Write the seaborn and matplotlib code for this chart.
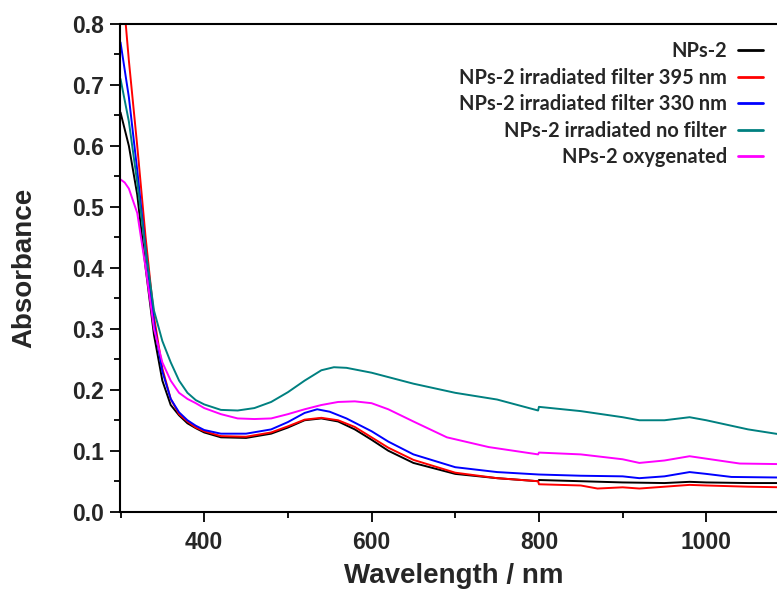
import numpy as np
import pandas as pd
import matplotlib
matplotlib.use("Agg")
import matplotlib.pyplot as plt
import seaborn as sns

# ---------------- data ----------------
labels = ["NPs-2", "NPs-2 irradiated filter 395 nm", "NPs-2 irradiated filter 330 nm",
          "NPs-2 irradiated no filter", "NPs-2 oxygenated"]
colors = ["#000000", "#ff0000", "#0000ff", "#008080", "#ff00ff"]

wl_black = [300, 310, 320, 330, 340, 350, 360, 370, 380, 390, 400, 420, 450, 480, 500, 520, 540, 560,
            580, 600, 620, 650, 700, 750, 799, 800, 850, 900, 950, 980, 1000, 1050, 1092]
abs_black = [0.655, 0.60, 0.52, 0.40, 0.29, 0.215, 0.175, 0.158, 0.145, 0.137, 0.130, 0.122, 0.121,
             0.128, 0.138, 0.150, 0.153, 0.148, 0.135, 0.118, 0.100, 0.080, 0.062, 0.055, 0.050,
             0.052, 0.050, 0.048, 0.047, 0.049, 0.048, 0.047, 0.047]

wl_red = [300, 305, 310, 320, 330, 340, 350, 360, 370, 380, 390, 400, 420, 450, 480, 500, 520, 540,
          560, 580, 600, 620, 650, 700, 750, 799, 800, 850, 870, 900, 920, 950, 980, 1000, 1050, 1092]
abs_red = [0.86, 0.82, 0.74, 0.60, 0.45, 0.32, 0.235, 0.185, 0.160, 0.148, 0.138, 0.132, 0.124, 0.123,
           0.130, 0.140, 0.151, 0.154, 0.150, 0.139, 0.122, 0.105, 0.085, 0.064, 0.055, 0.050, 0.045,
           0.043, 0.038, 0.040, 0.038, 0.041, 0.044, 0.043, 0.041, 0.040]

wl_blue = [300, 310, 320, 330, 340, 350, 360, 370, 380, 390, 400, 420, 450, 480, 500, 520, 535, 550,
           570, 600, 620, 650, 700, 750, 800, 850, 900, 920, 950, 980, 1000, 1030, 1092]
abs_blue = [0.77, 0.68, 0.56, 0.43, 0.31, 0.23, 0.185, 0.163, 0.150, 0.141, 0.134, 0.128, 0.128, 0.135,
            0.147, 0.162, 0.168, 0.164, 0.153, 0.132, 0.115, 0.094, 0.073, 0.065, 0.061, 0.059, 0.058,
            0.055, 0.058, 0.065, 0.062, 0.057, 0.056]

wl_teal = [300, 310, 320, 330, 340, 350, 360, 370, 380, 390, 400, 420, 440, 460, 480, 500, 520, 540,
           555, 570, 600, 650, 700, 750, 799, 800, 850, 900, 920, 950, 980, 1000, 1050, 1092]
abs_teal = [0.71, 0.64, 0.54, 0.43, 0.33, 0.28, 0.245, 0.215, 0.195, 0.183, 0.176, 0.167, 0.166, 0.170,
            0.180, 0.196, 0.215, 0.232, 0.237, 0.236, 0.228, 0.210, 0.195, 0.184, 0.166, 0.172, 0.165,
            0.155, 0.150, 0.150, 0.155, 0.150, 0.135, 0.126]

wl_mag = [300, 305, 310, 320, 330, 340, 350, 360, 370, 380, 390, 400, 420, 440, 460, 480, 500, 520,
          540, 560, 580, 600, 620, 650, 690, 740, 799, 800, 850, 900, 920, 950, 980, 1000, 1040, 1092]
abs_mag = [0.545, 0.54, 0.53, 0.49, 0.40, 0.30, 0.245, 0.215, 0.195, 0.185, 0.178, 0.170, 0.160, 0.153,
           0.152, 0.153, 0.160, 0.168, 0.175, 0.180, 0.181, 0.178, 0.168, 0.148, 0.122, 0.106, 0.094,
           0.097, 0.094, 0.086, 0.080, 0.084, 0.091, 0.087, 0.079, 0.078]

x_ticks = [400, 600, 800, 1000]
y_ticks = [0.0, 0.1, 0.2, 0.3, 0.4, 0.5, 0.6, 0.7, 0.8]

series = [(wl_black, abs_black), (wl_red, abs_red), (wl_blue, abs_blue),
          (wl_teal, abs_teal), (wl_mag, abs_mag)]
frames = []
for lab, (w, a) in zip(labels, series):
    frames.append(pd.DataFrame({"Wavelength": w, "Absorbance": a, "Sample": lab}))
df = pd.concat(frames, ignore_index=True)

# ---------------- style ----------------
sns.set_style("ticks")
plt.rcParams["font.family"] = ["Liberation Sans", "DejaVu Sans"]

W, H = 777, 590
fig = plt.figure(figsize=(W / 100, H / 100), dpi=100)
left, right, top, bottom = 120.5, 790, 24, 511.7
ax = fig.add_axes([left / W, 1 - bottom / H, (right - left) / W, (bottom - top) / H])

sns.lineplot(data=df, x="Wavelength", y="Absorbance", hue="Sample", hue_order=labels,
             palette=colors, linewidth=1.4, ax=ax, legend=True, sort=False, estimator=None)

ax.set_xlim(300, 1100)
ax.set_ylim(0, 0.8)
ax.set_xticks(x_ticks)
ax.set_xticklabels([str(t) for t in x_ticks])
ax.set_yticks(y_ticks)
ax.set_yticklabels([f"{t:.1f}" for t in y_ticks])
ax.set_xticks(np.arange(300, 1101, 100), minor=True)
ax.set_yticks(np.arange(0.05, 0.8, 0.1), minor=True)

for lab in ax.get_xticklabels() + ax.get_yticklabels():
    lab.set_fontweight("bold")
    lab.set_fontsize(16.5)
ax.tick_params(axis="both", which="major", direction="out", length=7, width=1.3, color="black", pad=5)
ax.tick_params(axis="both", which="minor", direction="out", length=4, width=1.3, color="black")
ax.tick_params(axis="x", which="major", pad=7)

for s in ["left", "bottom", "top"]:
    ax.spines[s].set_linewidth(1.5)
    ax.spines[s].set_color("black")
ax.spines["right"].set_visible(False)

axw, axh = right - left, bottom - top
ax.set_xlabel("Wavelength / nm", fontsize=20, fontweight="bold", va="baseline")
ax.xaxis.set_label_coords((454 - left) / axw, (bottom - 583) / axh)
ax.set_ylabel("Absorbance", fontsize=20, fontweight="bold", va="center")
ax.yaxis.set_label_coords((24 - left) / axw, 0.5)

handles, lbls = ax.get_legend_handles_labels()
leg = ax.legend(handles, lbls, loc="upper right", bbox_to_anchor=(763 / W, 1 - 41 / H),
                bbox_transform=fig.transFigure, frameon=False, markerfirst=False,
                prop={"family": ["Lato", "DejaVu Sans"], "weight": "bold", "size": 14.4},
                handlelength=1.25, handletextpad=0.55, labelspacing=0.33, borderpad=0,
                borderaxespad=0)
for line in leg.get_lines():
    line.set_linewidth(2)

fig.savefig("out.png", dpi=100)
